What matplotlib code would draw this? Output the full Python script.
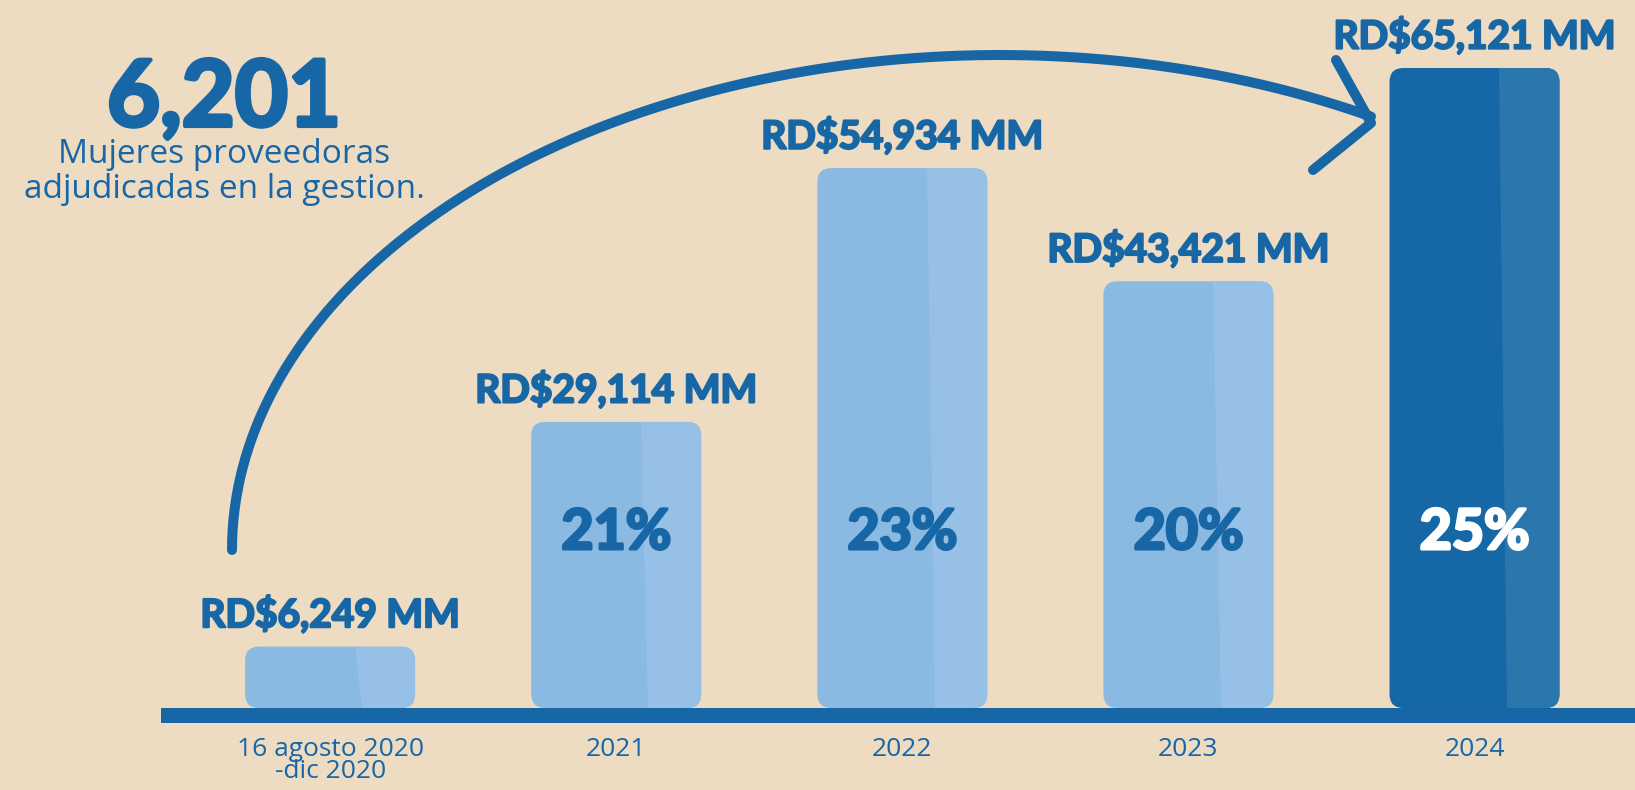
import numpy as np
import matplotlib
matplotlib.use("Agg")
import matplotlib.pyplot as plt
import matplotlib.patheffects as pe
from matplotlib.patches import FancyBboxPatch, Polygon, Rectangle

# data
categories = ["16 agosto 2020\n-dic 2020", "2021", "2022", "2023", "2024"]
montos = [6249, 29114, 54934, 43421, 65121]
monto_labels = ["RD$6,249 MM", "RD$29,114 MM", "RD$54,934 MM", "RD$43,421 MM", "RD$65,121 MM"]
porcentajes = ["", "21%", "23%", "20%", "25%"]
total_mujeres = "6,201"
subtitulo = ["Mujeres proveedoras", "adjudicadas en la gestion."]

bg = "#EDDBC2"
azul = "#1766A6"
claro_izq, claro_der = "#8AB9E2", "#97C0E6"
oscuro_izq, oscuro_der = "#1667A5", "#2C76AE"
fuente = "Lato"
fuente_reg = "Open Sans"


def grueso(color, lw=1.6):
    # thicken Lato Bold a bit, the original uses a black weight
    return [pe.withStroke(linewidth=lw, foreground=color)]


W, H = 1635, 790
fig = plt.figure(figsize=(W / 100, H / 100), dpi=100, facecolor=bg)

# bar axes: bottom edge sits on the baseline band
base_px = 708
k = 640 / 65121  # px per unit
ax = fig.add_axes([0, (H - base_px) / H, 1, base_px / H])
ax.set_facecolor("none")
ax.set_xlim(-330.1 / 286.1, (W - 330.1) / 286.1)
ax.set_ylim(0, base_px / k)
for s in ax.spines.values():
    s.set_visible(False)
ax.set_yticks([])

x = np.arange(len(montos))
width = 0.594
bars = ax.bar(x, montos, width=width, color="none")

rx = 14 / 286.1
ry = 14 / k
for i, b in enumerate(bars):
    x0, w, h = b.get_x(), b.get_width(), b.get_height()
    ultimo = i == len(montos) - 1
    izq, der = (oscuro_izq, oscuro_der) if ultimo else (claro_izq, claro_der)
    patch = FancyBboxPatch((x0, 0), w, h, boxstyle=f"round,pad=0,rounding_size={rx}",
                           mutation_aspect=ry / rx, fc=izq, ec="none", zorder=2)
    ax.add_patch(patch)
    shade = Polygon([(x0 + 0.645 * w, h), (x0 + w * 1.1, h), (x0 + w * 1.1, 0), (x0 + 0.69 * w, 0)],
                    closed=True, fc=der, ec="none", zorder=3)
    ax.add_patch(shade)
    shade.set_clip_path(patch)

    ax.annotate(monto_labels[i], (x[i], h), xytext=(0, 14), textcoords="offset points",
                ha="center", va="baseline", fontsize=28, fontweight="bold",
                family=fuente, color=azul, zorder=5, path_effects=grueso(azul))
    if porcentajes[i]:
        col = "white" if ultimo else azul
        ax.text(x[i], (base_px - 533) / base_px, porcentajes[i], transform=ax.get_xaxis_transform(),
                ha="center", va="center", fontsize=40, fontweight="bold", family=fuente,
                color=col, zorder=5, path_effects=grueso(col, 2.2))

ax.set_xticks(x)
ax.set_xticklabels(categories, fontsize=19, family=fuente_reg, color=azul)
ax.tick_params(axis="x", length=0, pad=21)
for lbl in ax.get_xticklabels():
    lbl.set_linespacing(0.85)

# overlay in pixel coordinates for the decorations
ov = fig.add_axes([0, 0, 1, 1])
ov.set_xlim(0, W)
ov.set_ylim(H, 0)
ov.axis("off")
ov.set_facecolor("none")

ov.add_patch(Rectangle((161, 708), W - 161, 15, fc=azul, ec="none"))

# big arc arrow
cx, cy, a, bb = 1000, 550, 768, 495
th = np.linspace(np.pi, np.arccos((1371 - cx) / a), 200)
ov.plot(cx + a * np.cos(th), cy - bb * np.sin(th), color=azul, lw=7.2, solid_capstyle="round")
ov.plot([1336, 1371, 1313], [60, 123, 170], color=azul, lw=7.2,
        solid_capstyle="round", solid_joinstyle="round")

ov.text(224, 126, total_mujeres, ha="center", va="baseline", fontsize=66,
        fontweight="bold", family=fuente, color=azul, path_effects=grueso(azul, 3))
ov.text(224, 163, subtitulo[0], ha="center", va="baseline", fontsize=24, family=fuente_reg, color=azul)
ov.text(224, 198, subtitulo[1], ha="center", va="baseline", fontsize=24, family=fuente_reg, color=azul)

fig.savefig("out.png", dpi=100, facecolor=bg)
